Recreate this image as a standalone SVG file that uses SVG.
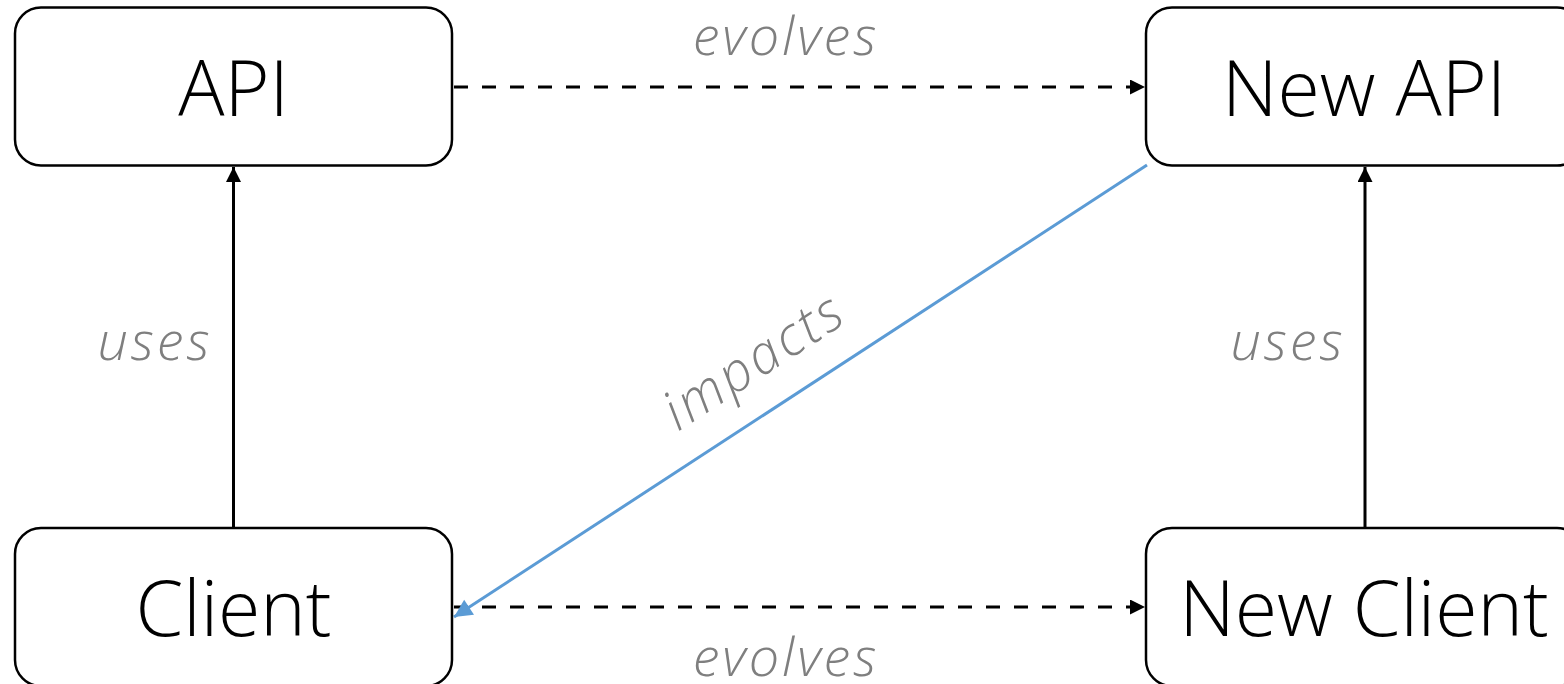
<svg xmlns="http://www.w3.org/2000/svg" width="1564" height="684" viewBox="0 0 1564 684">
  <style>
    .box { fill: #ffffff; stroke: #000000; stroke-width: 2.5; }
    .name { font-family: "Open Sans", "Noto Sans", "Liberation Sans", sans-serif; font-weight: 300; font-size: 77px; fill: #000000; text-anchor: middle; }
    .lbl { font-family: "Open Sans", "Noto Sans", "Liberation Sans", sans-serif; font-style: italic; font-weight: 300; font-size: 54px; letter-spacing: 3px; fill: #7f7f7f; text-anchor: middle; }
    .solid { stroke: #000000; stroke-width: 3; fill: none; }
    .dash { stroke: #000000; stroke-width: 3; fill: none; stroke-dasharray: 14 14; }
    .blue { stroke: #5b9bd5; stroke-width: 3; fill: none; }
  </style>
  <defs>
    <marker id="head" viewBox="0 0 10 10" refX="10" refY="5" markerWidth="5" markerHeight="5" markerUnits="strokeWidth" orient="auto">
      <path d="M0,0 L10,5 L0,10 z" fill="#000000"/>
    </marker>
    <marker id="headBlue" viewBox="0 0 10 10" refX="10" refY="5" markerWidth="6.5" markerHeight="6" markerUnits="strokeWidth" orient="auto">
      <path d="M0,0 L10,5 L0,10 z" fill="#5b9bd5"/>
    </marker>
  </defs>

  <rect width="1564" height="684" fill="#ffffff"/>

  <g id="connectors">
    <line class="dash" x1="454" y1="87" x2="1145" y2="87" marker-end="url(#head)"/>
    <line class="dash" x1="454" y1="607" x2="1145" y2="607" marker-end="url(#head)"/>
    <line class="solid" x1="233.5" y1="527" x2="233.5" y2="167" marker-end="url(#head)"/>
    <line class="solid" x1="1365" y1="527" x2="1365" y2="167" marker-end="url(#head)"/>
    <line class="blue" x1="1147" y1="165" x2="454" y2="617" marker-end="url(#headBlue)"/>
    <text class="lbl" x="786" y="55">evolves</text>
    <text class="lbl" x="786" y="676">evolves</text>
    <text class="lbl" x="155" y="360">uses</text>
    <text class="lbl" x="1288" y="360">uses</text>
    <text class="lbl" x="0" y="0" transform="translate(764,376) rotate(-33)">impacts</text>
  </g>

  <g id="api">
    <rect class="box" x="15" y="7.5" width="437" height="158" rx="26"/>
    <text class="name" x="233.5" y="116">API</text>
  </g>
  <g id="new-api">
    <rect class="box" x="1146" y="7.5" width="437" height="158" rx="26"/>
    <text class="name" x="1364" y="116">New API</text>
  </g>
  <g id="client">
    <rect class="box" x="15" y="528" width="437" height="158" rx="26"/>
    <text class="name" x="233.5" y="636">Client</text>
  </g>
  <g id="new-client">
    <rect class="box" x="1146" y="528" width="437" height="158" rx="26"/>
    <text class="name" x="1364" y="636">New Client</text>
  </g>
</svg>
